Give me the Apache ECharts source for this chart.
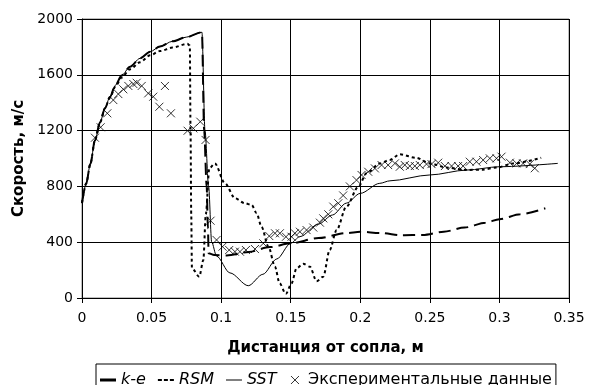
<!DOCTYPE html>
<html>
<head>
<meta charset="utf-8">
<script src="https://cdn.jsdelivr.net/npm/echarts@6/dist/echarts.min.js"></script>
<style>
html,body{margin:0;padding:0;background:#fff;}
#c{width:591px;height:385px;}
</style>
</head>
<body>
<div id="c"></div>
<script>
// ---- data (distance in m, velocity in m/s) ----
const sstX = [0, 0.003, 0.006, 0.0093, 0.013, 0.0165, 0.02, 0.024, 0.0285, 0.0345, 0.0417, 0.049, 0.056, 0.065, 0.075, 0.0862, 0.0884, 0.091, 0.0932, 0.0967, 0.1063, 0.1195, 0.13, 0.14, 0.15, 0.1566, 0.17, 0.18, 0.19, 0.2, 0.214, 0.2213, 0.25, 0.2764, 0.3, 0.342];
const sstY = [680, 820, 960, 1130, 1260, 1360, 1440, 1525, 1595, 1658, 1718, 1766, 1802, 1840, 1870, 1905, 1200, 800, 400, 300, 180, 88, 170, 280, 392, 440, 530, 595, 680, 750, 822, 840, 882, 917, 941, 965];

const keX = [0, 0.003, 0.006, 0.0093, 0.013, 0.0165, 0.02, 0.024, 0.0285, 0.0345, 0.0417, 0.049, 0.056, 0.065, 0.075, 0.0862, 0.0878, 0.0896, 0.0905, 0.091, 0.095, 0.104, 0.12, 0.135, 0.15, 0.17, 0.19, 0.2, 0.215, 0.23, 0.245, 0.26, 0.275, 0.29, 0.3, 0.315, 0.333];
const keY = [680, 820, 960, 1130, 1260, 1360, 1440, 1525, 1595, 1658, 1718, 1766, 1802, 1840, 1870, 1905, 1200, 800, 500, 320, 308, 305, 330, 365, 392, 430, 465, 475, 465, 450, 452, 475, 505, 540, 565, 600, 643];

const rsmX = [0, 0.003, 0.006, 0.0093, 0.013, 0.0165, 0.02, 0.024, 0.0285, 0.0345, 0.0417, 0.049, 0.056, 0.065, 0.0757, 0.0775, 0.078, 0.0785, 0.079, 0.0843, 0.0872, 0.089, 0.0915, 0.0955, 0.1027, 0.11, 0.117, 0.122, 0.1255, 0.129, 0.134, 0.1387, 0.142, 0.1465, 0.1506, 0.1542, 0.159, 0.1638, 0.1686, 0.1734, 0.178, 0.183, 0.19, 0.1986, 0.2045, 0.214, 0.2213, 0.2284, 0.24, 0.25, 0.262, 0.276, 0.288, 0.298, 0.31, 0.33];
const rsmY = [680, 820, 960, 1130, 1260, 1360, 1435, 1515, 1580, 1640, 1690, 1740, 1770, 1795, 1822, 1810, 1200, 600, 213, 153, 272, 600, 930, 965, 822, 715, 679, 667, 607, 511, 368, 224, 105, 30, 105, 213, 245, 224, 120, 153, 344, 487, 655, 798, 894, 965, 990, 1030, 1005, 965, 935, 918, 920, 935, 965, 1005];

const expX = [0.0093, 0.0134, 0.0182, 0.0225, 0.0261, 0.0297, 0.0333, 0.0369, 0.0393, 0.0429, 0.0476, 0.0512, 0.0556, 0.0596, 0.0639, 0.0759, 0.08, 0.085, 0.0888, 0.0924, 0.0967, 0.101, 0.1058, 0.1099, 0.1135, 0.1178, 0.1243, 0.1303, 0.1346, 0.1387, 0.1422, 0.1466, 0.1506, 0.153, 0.1566, 0.1614, 0.1662, 0.171, 0.1734, 0.177, 0.1806, 0.1842, 0.1877, 0.1925, 0.1973, 0.2009, 0.2057, 0.2105, 0.2153, 0.22, 0.2249, 0.2284, 0.232, 0.2356, 0.2392, 0.2428, 0.2476, 0.2512, 0.256, 0.2608, 0.2656, 0.2703, 0.2739, 0.2787, 0.2835, 0.2883, 0.2931, 0.2979, 0.3015, 0.3075, 0.3123, 0.317, 0.3218, 0.3254];
const expY = [1149, 1224, 1324, 1419, 1462, 1496, 1520, 1534, 1543, 1520, 1467, 1443, 1371, 1520, 1324, 1199, 1216, 1264, 1133, 554, 416, 368, 344, 332, 332, 344, 351, 392, 444, 464, 464, 439, 439, 464, 475, 487, 505, 540, 571, 600, 655, 679, 735, 800, 845, 882, 905, 929, 953, 953, 965, 941, 953, 946, 946, 953, 960, 960, 970, 946, 946, 946, 946, 977, 977, 989, 1001, 1001, 1013, 970, 965, 965, 960, 930];

const seriesNames = ['k-e', 'RSM', 'SST', 'Экспериментальные данные'];
const xAxisTitle = 'Дистанция от сопла, м';
const yAxisTitle = 'Скорость, м/с';

function zip(xs, ys) { return xs.map((x, i) => [x, ys[i]]); }

const FONT = 'DejaVu Sans, sans-serif';
const chart = echarts.init(document.getElementById('c'), null, {renderer: 'canvas'});

const crossPath = 'path://M0,0L10,10M10,0L0,10';

chart.setOption({
  animation: false,
  backgroundColor: '#fff',
  grid: {left: 82, right: 22, top: 19, bottom: 87, show: true, borderColor: '#808080', borderWidth: 1, backgroundColor: 'transparent'},
  xAxis: {
    type: 'value', min: 0, max: 0.35, interval: 0.05,
    name: xAxisTitle, nameLocation: 'middle', nameGap: 43,
    nameTextStyle: {fontFamily: FONT, fontSize: 15, fontWeight: 'bold', color: '#000'},
    axisLine: {show: true, onZero: false, lineStyle: {color: '#000', width: 1}},
    axisTick: {show: true, inside: false, length: 5, lineStyle: {color: '#000'}},
    axisLabel: {fontFamily: FONT, fontSize: 14, color: '#000', margin: 13,
      formatter: v => String(Math.round(v * 100) / 100)},
    splitLine: {show: true, lineStyle: {color: '#000', width: 1}}
  },
  yAxis: {
    type: 'value', min: 0, max: 2000, interval: 400,
    name: yAxisTitle, nameLocation: 'middle', nameGap: 55,
    nameTextStyle: {fontFamily: FONT, fontSize: 15, fontWeight: 'bold', color: '#000'},
    axisLine: {show: true, lineStyle: {color: '#000', width: 1}},
    axisTick: {show: true, inside: false, length: 5, lineStyle: {color: '#000'}},
    axisLabel: {fontFamily: FONT, fontSize: 14, color: '#000', margin: 9,
      formatter: v => String(v)},
    splitLine: {show: true, lineStyle: {color: '#000', width: 1}}
  },
  legend: {
    left: 96, top: 364,
    width: 470,
    orient: 'horizontal',
    borderColor: '#000', borderWidth: 1, borderRadius: 0,
    padding: [8, 4, 6, 4],
    itemWidth: 16, itemHeight: 8, itemGap: 12,
    symbolKeepAspect: true,
    textStyle: {
      fontFamily: FONT, fontSize: 16, color: '#000',
      rich: {
        i: {fontFamily: FONT, fontSize: 16, fontStyle: 'italic', color: '#000'},
        n: {fontFamily: FONT, fontSize: 16, color: '#000'}
      }
    },
    formatter: function (name) {
      return name === seriesNames[3] ? '{n|' + name + '}' : '{i|' + name + '}';
    },
    data: [
      {name: seriesNames[0], icon: 'path://M0,0h16v3h-16z'},
      {name: seriesNames[1], icon: 'path://M0,0h4v2h-4z M6,0h4v2h-4z M12,0h4v2h-4z'},
      {name: seriesNames[2], icon: 'path://M0,0h16v1h-16z'},
      {name: seriesNames[3], icon: crossPath, itemStyle: {color: 'none', borderColor: '#000', borderWidth: 1}}
    ]
  },
  series: [
    {
      name: seriesNames[0], type: 'line', data: zip(keX, keY),
      showSymbol: false, smooth: 0.3, smoothMonotone: 'x',
      lineStyle: {color: '#000', width: 2, type: [12, 6]},
      itemStyle: {color: '#000'}, z: 3
    },
    {
      name: seriesNames[1], type: 'line', data: zip(rsmX, rsmY),
      showSymbol: false, smooth: 0.3, smoothMonotone: 'x',
      lineStyle: {color: '#000', width: 2, type: [3, 3]},
      itemStyle: {color: '#000'}, z: 3
    },
    {
      name: seriesNames[2], type: 'line', data: zip(sstX, sstY),
      showSymbol: false, smooth: 0.3, smoothMonotone: 'x',
      lineStyle: {color: '#000', width: 1},
      itemStyle: {color: '#000'}, z: 3
    },
    {
      name: seriesNames[3], type: 'scatter', data: zip(expX, expY),
      symbol: crossPath, symbolSize: 8,
      itemStyle: {color: 'none', borderColor: '#000', borderWidth: 1}, z: 4
    }
  ]
});
</script>
</body>
</html>
